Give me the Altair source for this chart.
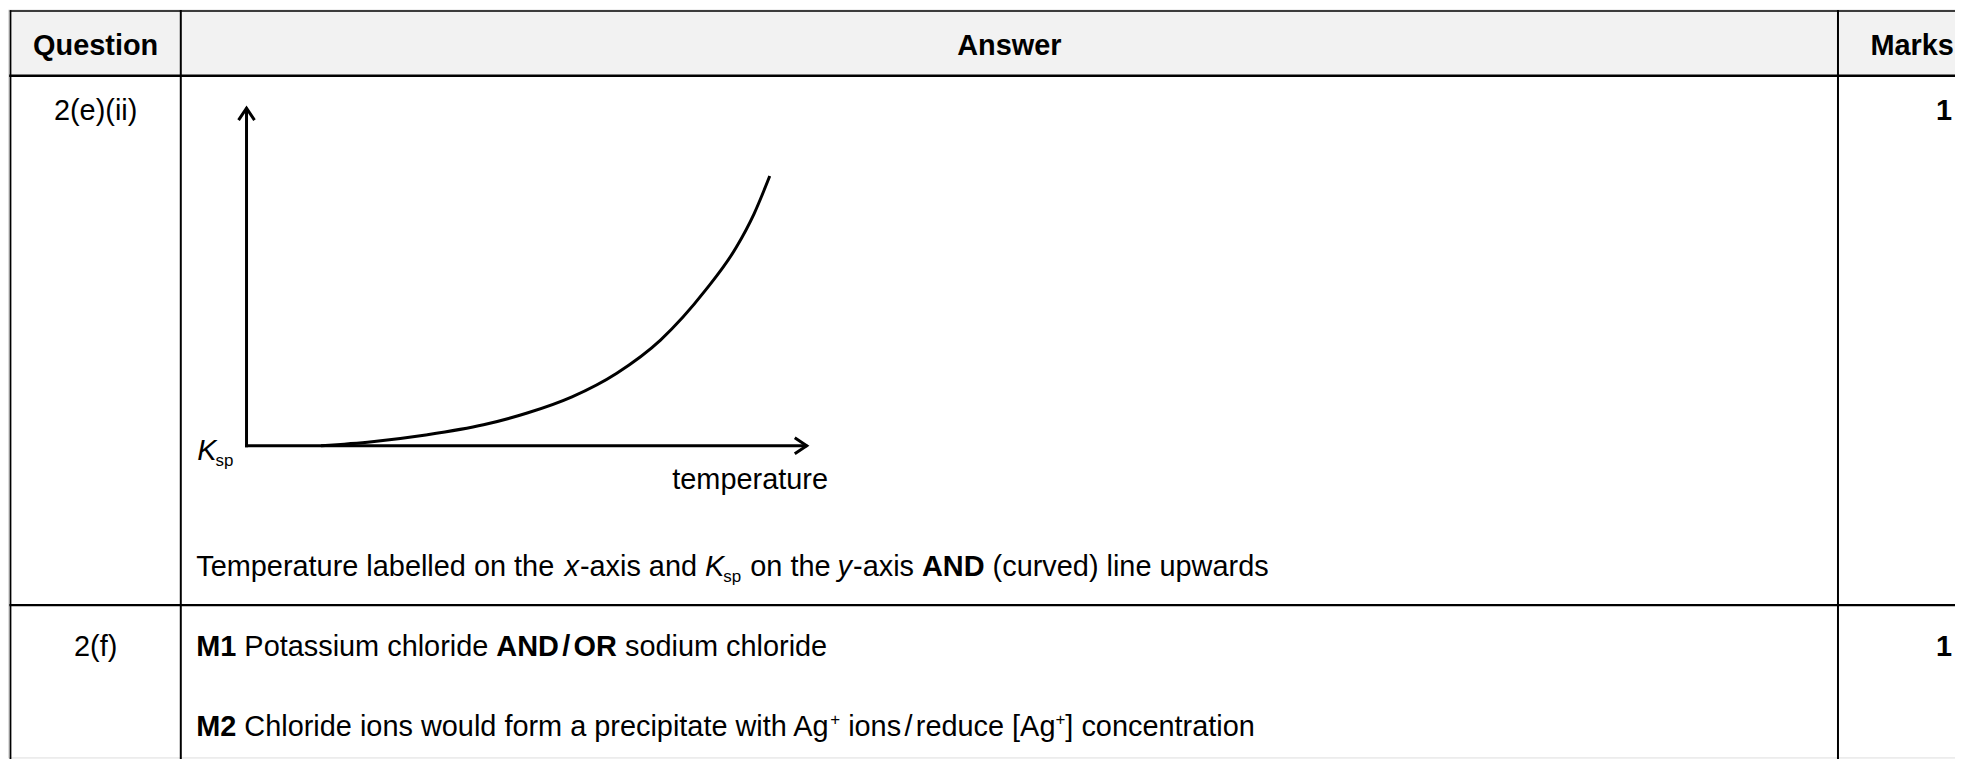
import altair as alt
import pandas as pd

# ---------------- data ----------------
temperature = [13.3, 22.4, 32.0, 42.3, 50.1, 58.1, 66.1, 73.9, 81.9, 87.4, 90.6, 93.4]
ksp = [0.0, 1.2, 3.2, 6.2, 9.7, 14.5, 21.5, 31.3, 46.0, 58.7, 68.7, 79.9]

headers = ["Question", "Answer", "Marks"]
questions = ["2(e)(ii)", "2(f)"]
marks = ["1", "1"]
x_axis_label = "temperature"
y_axis_label = [("K", "k"), ("sp", "sub")]
answer_row1 = [("Temperature labelled on the ", "r"), ("x", "i"), ("-axis and ", "r"),
               ("K", "k"), ("sp", "sub"), (" on the ", "r"), ("y", "i"), ("-axis ", "r"),
               ("AND", "b"), (" (curved) line upwards", "r")]
answer_m1 = [("M1", "b"), (" Potassium chloride ", "r"), ("AND", "b"), (" ", "thin"), ("/", "b"),
             (" ", "thin"), ("OR", "b"), (" sodium chloride", "r")]
answer_m2 = [("M2", "b"), (" Chloride ions would form a precipitate with Ag", "r"), ("+", "sup"),
             (" ions", "r"), (" ", "thin"), ("/", "r"), (" ", "thin"), ("reduce [Ag", "r"), ("+", "sup"),
             ("] concentration", "r")]

# ---------------- layout / style ----------------
FONT = "Liberation Sans"
FS = 29
SMALL = 17
OFF = 8  # page margin


def P(v):
    return v - OFF


UP = "ABCDEFGHIJKLMNOPQRSTUVWXYZ"
LO = "abcdefghijklmnopqrstuvwxyz"
REG = dict(zip(UP, [667, 667, 722, 722, 667, 611, 778, 722, 278, 500, 667, 556, 833, 722, 778, 667, 778, 722, 667, 611, 722, 667, 944, 667, 667, 611]))
REG.update(zip(LO, [556, 556, 500, 556, 556, 278, 556, 556, 222, 222, 500, 222, 833, 556, 556, 556, 556, 333, 500, 278, 556, 500, 722, 500, 500, 500]))
REG.update({" ": 278, "(": 333, ")": 333, "+": 584, "-": 333, "/": 278, "[": 278, "]": 278})
REG.update({d: 556 for d in "0123456789"})
BOLD = dict(zip(UP, [722, 722, 722, 722, 667, 611, 778, 722, 278, 556, 722, 611, 833, 722, 778, 667, 778, 722, 667, 611, 722, 667, 944, 667, 667, 611]))
BOLD.update(zip(LO, [556, 611, 556, 611, 556, 333, 611, 611, 278, 278, 556, 278, 889, 611, 611, 611, 611, 389, 556, 333, 611, 556, 778, 556, 556, 500]))
BOLD.update({" ": 278, "(": 333, ")": 333, "+": 584, "-": 333, "/": 278, "[": 333, "]": 333})
BOLD.update({d: 556 for d in "0123456789"})

STYLE = {
    "r": dict(size=FS, weight="normal", italic="normal", dy=0, dx=0),
    "b": dict(size=FS, weight="bold", italic="normal", dy=0, dx=0),
    "i": dict(size=FS, weight="normal", italic="italic", dy=0, dx=-1),
    "k": dict(size=FS, weight="normal", italic="italic", dy=0, dx=0),
    "sub": dict(size=SMALL, weight="normal", italic="normal", dy=6, dx=-1),
    "sup": dict(size=SMALL, weight="normal", italic="normal", dy=-11, dx=0),
    "thin": dict(size=12, weight="normal", italic="normal", dy=0, dx=0),
}


def width(s, style):
    st = STYLE[style]
    tbl = BOLD if st["weight"] == "bold" else REG
    return sum(tbl.get(c, 556) for c in s) / 1000.0 * st["size"]


one = pd.DataFrame({"_": [0]})
layers = []


def text(t, x, y, style="r", align="left"):
    st = STYLE[style]
    return alt.Chart(one).mark_text(
        align=align, baseline="alphabetic", font=FONT, fontSize=st["size"],
        fontWeight=st["weight"], fontStyle=st["italic"], color="black"
    ).encode(x=alt.value(P(x + st["dx"])), y=alt.value(P(y + st["dy"])), text=alt.value(t))


def runs(rs, x, y):
    out = []
    cx = x
    for t, style in rs:
        lead = len(t) - len(t.lstrip(" "))
        stripped = t.strip(" ")
        if stripped:
            out.append(text(stripped, cx + width(" " * lead, style), y, style))
        cx += width(t, style)
    return out


def rule(x1, y1, x2, y2, w, color="black"):
    return alt.Chart(one).mark_rule(color=color, strokeWidth=w, strokeCap="square").encode(
        x=alt.value(P(x1)), x2=alt.value(P(x2)), y=alt.value(P(y1)), y2=alt.value(P(y2)))


# table geometry
L, T, HB, C1, C2, R, RD, B = 10.5, 9.5, 74.5, 181.5, 1845.5, 1994, 606, 800

layers.append(alt.Chart(one).mark_rect(color="#f2f2f2").encode(
    x=alt.value(P(L)), x2=alt.value(P(R)), y=alt.value(P(T)), y2=alt.value(P(HB))))
layers += [
    rule(L, T, R, T, 1.4),
    rule(L, HB, R, HB, 2.6),
    rule(L, RD, R, RD, 2.2),
    rule(L, T, L, B, 1.8),
    rule(C1, T, C1, B, 2.0),
    rule(C2, T, C2, B, 2.0),
]

# header
layers.append(text(headers[0], (L + C1) / 2, 54, "b", "center"))
layers.append(text(headers[1], (C1 + C2) / 2, 54, "b", "center"))
layers.append(text(headers[2], 1920, 54, "b", "center"))

# question / marks columns
row_base = [119, 657]
for q, m, yb in zip(questions, marks, row_base):
    layers.append(text(q, (L + C1) / 2, yb, "r", "center"))
    layers.append(text(m, 1960, yb, "b", "right"))

# answers
layers += runs(answer_row1, 197, 577)
layers += runs(answer_m1, 197, 657)
layers += runs(answer_m2, 197, 737)

# sketch axes
OX, OY, XT, YT = 247.5, 446, 810, 107
layers.append(rule(OX, OY, OX, YT + 1, 3))
layers.append(rule(OX, OY, XT - 1, OY, 3))
layers.append(alt.Chart(one).mark_point(
    shape="M-1.5,-1L0,0L-1.5,1", filled=False, color="black", strokeWidth=3, size=256, opacity=1
).encode(x=alt.value(P(XT)), y=alt.value(P(OY))))
layers.append(alt.Chart(one).mark_point(
    shape="M-1,1.5L0,0L1,1.5", filled=False, color="black", strokeWidth=3, size=256, opacity=1
).encode(x=alt.value(P(OX)), y=alt.value(P(YT))))

layers += runs(y_axis_label, 198, 460)
layers.append(text(x_axis_label, 675, 489))

# curve
curve = pd.DataFrame({"temperature": temperature, "ksp": ksp})
layers.append(alt.Chart(curve).mark_line(
    interpolate="monotone", color="black", strokeWidth=3
).encode(
    x=alt.X("temperature:Q", scale=alt.Scale(domain=[0, 100], range=[P(OX), P(XT)], nice=False), axis=None),
    y=alt.Y("ksp:Q", scale=alt.Scale(domain=[0, 100], range=[P(OY), P(YT)], nice=False), axis=None),
    order="temperature:Q",
))

chart = alt.layer(*layers).properties(
    width=1963 - OFF, height=767 - 2 * OFF, padding=0,
    autosize=alt.AutoSizeParams(type="none"),
).configure_view(stroke=None).configure(background="white")

chart.save("out.html", embed_options={"renderer": "svg", "actions": False})
